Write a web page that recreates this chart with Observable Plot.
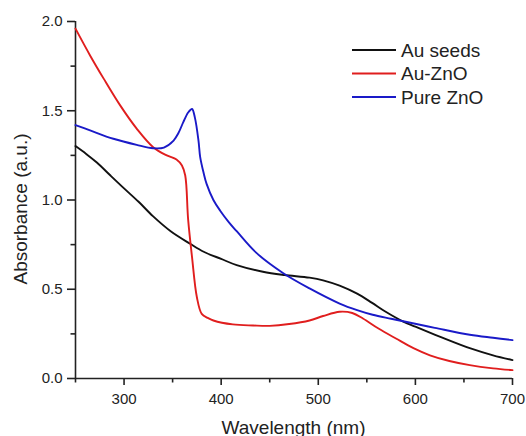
<!DOCTYPE html>
<html>
<head>
<meta charset="utf-8">
<script src="https://cdn.jsdelivr.net/npm/d3@7"></script>
<script src="https://cdn.jsdelivr.net/npm/@observablehq/plot@0.6"></script>
<style>
  html, body { margin: 0; padding: 0; background: #fff; }
  svg { display: block; }
</style>
</head>
<body>
<div id="chart"></div>
<script>
// ---- data ----
const seriesNames = ["Au seeds", "Au-ZnO", "Pure ZnO"];
const seriesColors = ["#111111", "#e01e1e", "#1a1ac8"];

const xDomain = [250, 700];
const yDomain = [0, 2];
const xMajor = [300, 400, 500, 600, 700];
const xMinor = [250, 350, 450, 550, 650];
const yMajor = [0, 0.5, 1.0, 1.5, 2.0];
const yMinor = [0.25, 0.75, 1.25, 1.75];

const seedsWl  = [250, 261, 272, 286, 300, 315, 330, 348, 368, 382, 400, 416, 443, 465, 491, 505, 522, 540, 555, 569, 587, 600, 625, 656, 680, 700];
const seedsAbs = [1.302, 1.258, 1.21, 1.137, 1.065, 0.99, 0.908, 0.825, 0.755, 0.71, 0.67, 0.635, 0.598, 0.58, 0.565, 0.55, 0.52, 0.475, 0.425, 0.375, 0.32, 0.29, 0.235, 0.17, 0.13, 0.103];

const auznoWl  = [250, 265, 279, 296, 313, 330, 344, 354, 359.6, 363, 366, 370, 375, 380, 386, 392, 412, 433, 450, 470, 491, 505, 522, 535, 546, 562, 580, 598, 615, 635, 656, 680, 700];
const auznoAbs = [1.96, 1.81, 1.68, 1.53, 1.40, 1.296, 1.25, 1.227, 1.193, 1.137, 0.89, 0.68, 0.455, 0.362, 0.34, 0.325, 0.303, 0.297, 0.295, 0.305, 0.325, 0.35, 0.374, 0.367, 0.336, 0.28, 0.224, 0.17, 0.13, 0.098, 0.075, 0.057, 0.047];

const znoWl  = [250, 265, 289, 313, 330, 341, 351, 356, 361, 366, 370, 373, 376.7, 378.4, 382, 385, 392, 399, 408, 416, 436, 464, 491, 522, 540, 556, 575, 590, 620, 656, 680, 700];
const znoAbs = [1.42, 1.39, 1.343, 1.309, 1.29, 1.294, 1.333, 1.375, 1.436, 1.49, 1.51, 1.46, 1.33, 1.24, 1.15, 1.09, 1.0, 0.94, 0.875, 0.825, 0.705, 0.59, 0.505, 0.42, 0.383, 0.357, 0.335, 0.318, 0.284, 0.245, 0.228, 0.215];

const yLabel = "Absorbance (a.u.)";
const xLabel = "Wavelength (nm)";

// ---- table for the library ----
const rows = [];
[[seedsWl, seedsAbs], [auznoWl, auznoAbs], [znoWl, znoAbs]].forEach(([wl, ab], i) => {
  wl.forEach((w, j) => rows.push({series: seriesNames[i], wl: w, abs: ab[j]}));
});

const W = 526, H = 436;
const mL = 75, mR = 14, mT = 21, mB = 58;
const axisColor = "#222";

const plot = Plot.plot({
  width: W,
  height: H,
  marginLeft: mL,
  marginRight: mR,
  marginTop: mT,
  marginBottom: mB,
  style: {fontFamily: "'Liberation Sans', Arial, sans-serif", fontSize: "15px", color: axisColor, background: "#fff"},
  x: {domain: xDomain},
  y: {domain: yDomain},
  color: {domain: seriesNames, range: seriesColors},
  marks: [
    // major ticks with labels (outward)
    Plot.axisX({ticks: xMajor, tickSize: 7, tickPadding: 8, stroke: axisColor, strokeWidth: 1.6, label: null, tickFormat: d3.format("d")}),
    Plot.axisY({ticks: yMajor, tickSize: 8, tickPadding: 5, stroke: axisColor, strokeWidth: 1.6, label: null, tickFormat: d3.format(".1f")}),
    // minor ticks
    Plot.ruleX(xMinor, {x: d => d, y1: yDomain[0], y2: yDomain[0], insetBottom: -4.5, stroke: axisColor, strokeWidth: 1.6}),
    Plot.ruleY(yMinor, {y: d => d, x1: xDomain[0], x2: xDomain[0], insetLeft: -4.5, stroke: axisColor, strokeWidth: 1.6}),
    // axis lines
    Plot.ruleX([xDomain[0]], {stroke: axisColor, strokeWidth: 1.6}),
    Plot.ruleY([yDomain[0]], {stroke: axisColor, strokeWidth: 1.6}),
    // curves
    Plot.line(rows, {x: "wl", y: "abs", stroke: "series", z: "series", curve: "catmull-rom", strokeWidth: 1.9})
  ]
});

document.getElementById("chart").appendChild(plot);

// ---- axis titles and legend ----
const svg = d3.select(plot);
const ff = "'Liberation Sans', Arial, sans-serif";

svg.append("text")
  .attr("x", (mL + W - mR) / 2)
  .attr("y", 433.5)
  .attr("text-anchor", "middle")
  .attr("font-family", ff)
  .attr("font-size", 19)
  .attr("fill", axisColor)
  .text(xLabel);

svg.append("text")
  .attr("transform", "translate(27,209) rotate(-90)")
  .attr("text-anchor", "middle")
  .attr("font-family", ff)
  .attr("font-size", 19)
  .attr("fill", axisColor)
  .text(yLabel);

const leg = svg.append("g");
seriesNames.forEach((name, i) => {
  const y = 50 + i * 23.5;
  leg.append("line")
    .attr("x1", 352).attr("x2", 396)
    .attr("y1", y).attr("y2", y)
    .attr("stroke", seriesColors[i])
    .attr("stroke-width", 2);
  leg.append("text")
    .attr("x", 401)
    .attr("y", y + 6.8)
    .attr("text-anchor", "start")
    .attr("font-family", ff)
    .attr("font-size", 19)
    .attr("fill", axisColor)
    .text(name);
});
</script>
</body>
</html>
